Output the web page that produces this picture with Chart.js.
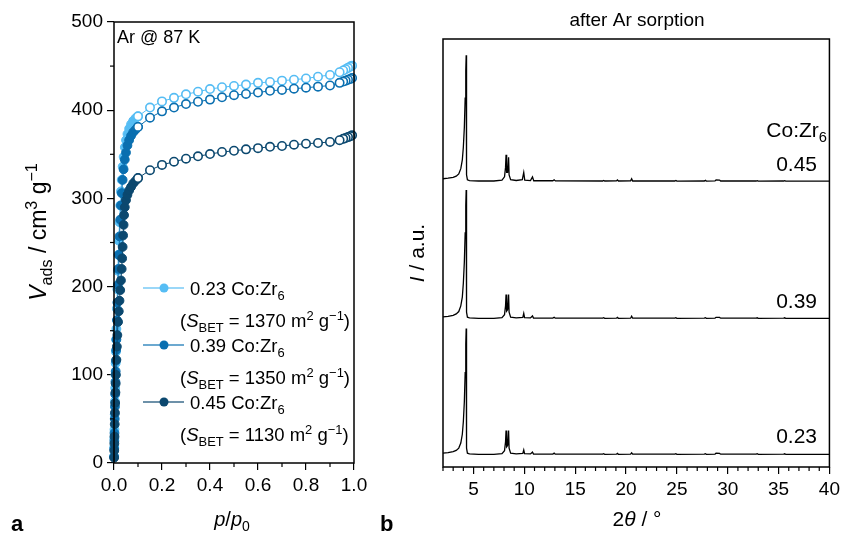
<!DOCTYPE html>
<html>
<head>
<meta charset="utf-8">
<script src="https://cdn.jsdelivr.net/npm/chart.js@4.4.1/dist/chart.umd.min.js"></script>
<style>
  body { margin: 0; background: #fff; }
  #wrap { position: relative; width: 844px; height: 540px; }
  canvas { position: absolute; top: 0; }
</style>
</head>
<body>
<div id="wrap">
  <canvas id="iso" width="380" height="540" style="left:0"></canvas>
  <canvas id="xrd" width="464" height="540" style="left:380px"></canvas>
</div>
<script>
// ---- isotherm data (Ar @ 87 K) ----
const samples = ['0.23', '0.39', '0.45']
const sBet = [1370, 1350, 1130]

const adsP023 = [0.0005, 0.001, 0.0015, 0.002, 0.003, 0.004, 0.005, 0.006, 0.007, 0.008, 0.009, 0.010, 0.012, 0.014, 0.016, 0.018, 0.020, 0.023, 0.026, 0.029, 0.032, 0.036, 0.040, 0.045, 0.050, 0.056, 0.063, 0.071, 0.080, 0.090, 0.100]
const adsV023 = [8, 18, 28, 38, 55, 70, 85, 100, 113, 126, 140, 152, 175, 197, 218, 236, 252, 273, 292, 308, 321, 336, 347, 358, 366, 373, 379, 384, 388, 391, 393]
const adsP039 = [0.0005, 0.001, 0.0015, 0.002, 0.003, 0.004, 0.005, 0.006, 0.007, 0.008, 0.009, 0.010, 0.012, 0.014, 0.016, 0.018, 0.020, 0.023, 0.026, 0.029, 0.032, 0.036, 0.040, 0.045, 0.050, 0.056, 0.063, 0.071, 0.080, 0.090, 0.100]
const adsV039 = [7, 16, 25, 34, 50, 64, 78, 92, 104, 116, 128, 140, 162, 182, 202, 220, 236, 257, 276, 292, 306, 321, 333, 344, 352, 360, 366, 371, 375, 378, 381]
const adsP045 = [0.0005, 0.001, 0.0015, 0.002, 0.003, 0.004, 0.005, 0.006, 0.007, 0.008, 0.010, 0.012, 0.014, 0.017, 0.020, 0.023, 0.026, 0.029, 0.032, 0.034, 0.036, 0.038, 0.040, 0.042, 0.045, 0.050, 0.056, 0.063, 0.071, 0.080, 0.090, 0.100]
const adsV045 = [6, 14, 22, 30, 44, 57, 68, 80, 90, 100, 117, 132, 145, 160, 172, 184, 196, 207, 220, 232, 245, 258, 270, 281, 290, 298, 304, 309, 313, 317, 320, 323]

const desP = [0.992, 0.985, 0.975, 0.965, 0.955, 0.94, 0.90, 0.85, 0.80, 0.75, 0.70, 0.65, 0.60, 0.55, 0.50, 0.45, 0.40, 0.35, 0.30, 0.25, 0.20, 0.15, 0.10]
const desV023 = [450.5, 449.5, 448, 446.5, 445, 443, 440, 438, 436, 434.6, 433.5, 432, 431, 429, 427.5, 426, 424, 421, 418, 414, 410, 403, 393]
const desV039 = [436.5, 435.5, 434.5, 433.5, 432.5, 431, 428, 426.7, 425.5, 424.4, 423, 422, 420, 418.4, 417, 414.6, 412, 409.6, 407, 403, 398.7, 391.5, 381]
const desV045 = [371.5, 370.5, 369.5, 368.5, 367.5, 366, 364, 362.8, 362, 360.9, 359.4, 358.5, 357, 355.6, 354, 352.6, 350.3, 347.7, 345, 341.6, 338, 332, 323]

const isoXTicks = [0, 0.2, 0.4, 0.6, 0.8, 1.0]
const isoXMinor = [0.1, 0.3, 0.5, 0.7, 0.9]
const isoYTicks = [0, 100, 200, 300, 400, 500]
const isoYMinor = [50, 150, 250, 350, 450]

// ---- XRD data after Ar sorption: [2theta, normalised intensity] ----
const xrd023 = [[2.0,0.01],[2.5,0.014],[3.0,0.022],[3.3,0.032],[3.55,0.05],[3.75,0.09],[3.9,0.16],[4.0,0.26],[4.1,0.42],[4.18,0.65],[4.24,0.88],[4.28,1.0],[4.3,0.5],[4.33,0.05],[4.4,0.01],[4.6,0.004],[5.5,0.001],[7.0,0.001],[7.8,0.006],[8.05,0.03],[8.15,0.1],[8.2,0.19],[8.26,0.06],[8.35,0.07],[8.45,0.19],[8.5,0.05],[8.65,0.01],[9.2,0.005],[9.85,0.008],[9.94,0.035],[10.02,0.006],[10.6,0.004],[10.8,0.018],[10.9,0.003],[12.8,0.003],[12.93,0.01],[13.05,0.002],[17.7,0.002],[17.8,0.006],[17.9,0.001],[19.05,0.002],[19.15,0.008],[19.25,0.001],[20.45,0.002],[20.55,0.013],[20.65,0.002],[24.8,0.002],[24.9,0.006],[25.0,0.001],[27.7,0.002],[27.8,0.006],[27.9,0.001],[28.75,0.003],[28.85,0.009],[29.2,0.008],[29.3,0.002],[32.8,0.002],[32.9,0.006],[33.0,0.001],[35.5,0.002],[35.6,0.005],[35.7,0.001],[40.0,0.001]]
const xrd039 = [[2.0,0.012],[2.5,0.016],[3.0,0.025],[3.3,0.036],[3.55,0.055],[3.75,0.1],[3.9,0.17],[4.0,0.28],[4.1,0.45],[4.18,0.68],[4.24,0.9],[4.28,1.02],[4.3,0.5],[4.33,0.05],[4.4,0.01],[4.6,0.004],[5.5,0.001],[7.0,0.001],[7.8,0.006],[8.05,0.03],[8.15,0.1],[8.2,0.19],[8.26,0.06],[8.35,0.07],[8.45,0.19],[8.5,0.05],[8.65,0.01],[9.2,0.005],[9.85,0.008],[9.94,0.04],[10.02,0.006],[10.6,0.004],[10.8,0.02],[10.9,0.003],[12.8,0.003],[12.93,0.01],[13.05,0.002],[17.7,0.002],[17.8,0.006],[17.9,0.001],[19.05,0.002],[19.15,0.008],[19.25,0.001],[20.45,0.002],[20.55,0.018],[20.65,0.002],[24.8,0.002],[24.9,0.006],[25.0,0.001],[27.7,0.002],[27.8,0.006],[27.9,0.001],[28.75,0.003],[28.85,0.009],[29.2,0.008],[29.3,0.002],[32.8,0.002],[32.9,0.005],[33.0,0.001],[35.5,0.002],[35.6,0.005],[35.7,0.001],[40.0,0.001]]
const xrd045 = [[2.0,0.02],[2.5,0.024],[3.0,0.03],[3.3,0.04],[3.55,0.058],[3.75,0.1],[3.9,0.17],[4.0,0.27],[4.1,0.43],[4.18,0.66],[4.24,0.88],[4.28,1.0],[4.3,0.5],[4.33,0.05],[4.4,0.012],[4.6,0.005],[5.5,0.002],[7.0,0.002],[7.8,0.008],[8.05,0.035],[8.15,0.11],[8.2,0.21],[8.26,0.07],[8.35,0.07],[8.45,0.19],[8.5,0.05],[8.65,0.012],[9.2,0.006],[9.8,0.012],[9.94,0.07],[10.04,0.008],[10.6,0.005],[10.8,0.035],[10.92,0.004],[12.8,0.004],[12.93,0.012],[13.05,0.003],[17.7,0.002],[17.8,0.006],[17.9,0.002],[19.05,0.003],[19.15,0.01],[19.25,0.002],[20.45,0.003],[20.55,0.02],[20.65,0.002],[24.8,0.002],[24.9,0.006],[25.0,0.001],[27.7,0.002],[27.8,0.007],[27.9,0.001],[28.75,0.003],[28.85,0.01],[29.2,0.009],[29.3,0.002],[32.8,0.002],[32.9,0.005],[33.0,0.001],[35.5,0.002],[35.6,0.005],[35.7,0.001],[40.0,0.001]]
const traceOffsets = [0.1, 1.18, 2.27]
const xrdTicks = [5, 10, 15, 20, 25, 30, 35, 40]
const xrdMinor = [2, 3, 4, 6, 7, 8, 9, 11, 12, 13, 14, 16, 17, 18, 19, 21, 22, 23, 24, 26, 27, 28, 29, 31, 32, 33, 34, 36, 37, 38, 39]

// ---- styling ----
const FONT = '"Liberation Sans", Arial, Helvetica, sans-serif'
const isoColors = ['#56bdf4', '#0a6fb0', '#0b486f']
const legendLineColors = ['rgba(86,189,244,0.6)', 'rgba(10,111,176,0.6)', 'rgba(11,72,111,0.6)']

Chart.defaults.font.family = FONT
Chart.defaults.font.size = 19
Chart.defaults.color = '#000'

function fontFor(kind, size) {
  const small = kind === 'sub' || kind === 'sup'
  const s = small ? size * 0.7 : size
  const it = kind === 'i' ? 'italic ' : ''
  return it + s + 'px ' + FONT
}

function drawRich(ctx, parts, x, y, size, align) {
  let w = 0
  parts.forEach(([t, k]) => { ctx.font = fontFor(k, size); w += ctx.measureText(t).width })
  let cx = align === 'center' ? x - w / 2 : align === 'right' ? x - w : x
  ctx.textAlign = 'left'
  ctx.textBaseline = 'alphabetic'
  parts.forEach(([t, k]) => {
    ctx.font = fontFor(k, size)
    const dy = k === 'sub' ? size * 0.25 : k === 'sup' ? -size * 0.4 : 0
    ctx.fillText(t, cx, y + dy)
    cx += ctx.measureText(t).width
  })
}

// box around plot area + minor ticks on the outside
const frame = {
  id: 'frame',
  afterDraw(chart, args, opts) {
    const { ctx, chartArea: a } = chart
    ctx.save()
    ctx.strokeStyle = '#000'
    ctx.lineWidth = 1.5
    ctx.strokeRect(a.left, a.top, a.right - a.left, a.bottom - a.top)
    ctx.lineWidth = 1.2
    ;(opts.xMinor || []).forEach(v => {
      const px = chart.scales.x.getPixelForValue(v)
      ctx.beginPath(); ctx.moveTo(px, a.bottom); ctx.lineTo(px, a.bottom + 4); ctx.stroke()
    })
    ;(opts.yMinor || []).forEach(v => {
      const py = chart.scales.y.getPixelForValue(v)
      ctx.beginPath(); ctx.moveTo(a.left, py); ctx.lineTo(a.left - 4, py); ctx.stroke()
    })
    ctx.restore()
  }
}

const isoText = {
  id: 'isoText',
  afterDraw(chart) {
    const ctx = chart.ctx
    ctx.save()
    ctx.fillStyle = '#000'
    drawRich(ctx, [['Ar @ 87 K', '']], 117, 43, 18, 'left')
    // legend
    const rows = [288, 345, 402]
    samples.forEach((s, i) => {
      const y = rows[i]
      ctx.strokeStyle = legendLineColors[i]
      ctx.lineWidth = 2
      ctx.beginPath(); ctx.moveTo(143, y); ctx.lineTo(184, y); ctx.stroke()
      ctx.fillStyle = isoColors[i]
      ctx.beginPath(); ctx.arc(164, y, 4.5, 0, Math.PI * 2); ctx.fill()
      ctx.fillStyle = '#000'
      drawRich(ctx, [[s + ' Co:Zr', ''], ['6', 'sub']], 190, y + 7, 18.5, 'left')
      drawRich(ctx, [['(', ''], ['S', 'i'], ['BET', 'sub'], [' = ' + sBet[i] + ' m', ''], ['2', 'sup'], [' g', ''], ['\u22121', 'sup'], [')', '']], 180, y + 39, 18.5, 'left')
    })
    // axis titles
    drawRich(ctx, [['p', 'i'], ['/', ''], ['p', 'i'], ['0', 'sub']], 232, 526, 20, 'center')
    ctx.save()
    ctx.translate(46, 232)
    ctx.rotate(-Math.PI / 2)
    drawRich(ctx, [['V', 'i'], ['ads', 'sub'], [' / cm', ''], ['3', 'sup'], [' g', ''], ['\u22121', 'sup']], 0, 0, 23, 'center')
    ctx.restore()
    ctx.font = 'bold 22px ' + FONT
    ctx.fillText('a', 11, 531)
    ctx.restore()
  }
}

const xrdText = {
  id: 'xrdText',
  afterDraw(chart) {
    const ctx = chart.ctx
    ctx.save()
    ctx.fillStyle = '#000'
    drawRich(ctx, [['after Ar sorption', '']], 257, 26, 19, 'center')
    drawRich(ctx, [['Co:Zr', ''], ['6', 'sub']], 447, 137, 21, 'right')
    const labelY = [443, 308, 171]
    labelY.forEach((y, i) => drawRich(ctx, [[samples[i], '']], 437, y, 21, 'right'))
    drawRich(ctx, [['2', ''], ['\u03b8', 'i'], [' / \u00b0', '']], 257, 526, 21, 'center')
    ctx.save()
    ctx.translate(44, 253)
    ctx.rotate(-Math.PI / 2)
    drawRich(ctx, [['I', 'i'], [' / a.u.', '']], 0, 0, 21, 'center')
    ctx.restore()
    ctx.font = 'bold 22px ' + FONT
    ctx.fillText('b', 0, 531)
    ctx.restore()
  }
}

// ---- isotherm chart ----
const toXY = (ps, vs) => ps.map((p, i) => ({ x: p, y: vs[i] }))
const adsSets = [[adsP023, adsV023], [adsP039, adsV039], [adsP045, adsV045]]
const desSets = [desV023, desV039, desV045]
const isoDatasets = []
samples.forEach((s, i) => {
  isoDatasets.push({
    label: s + ' ads', data: toXY(adsSets[i][0], adsSets[i][1]), showLine: true,
    borderColor: isoColors[i], borderWidth: 1, backgroundColor: isoColors[i],
    pointBackgroundColor: isoColors[i], pointBorderColor: isoColors[i],
    pointRadius: 4.4, pointBorderWidth: 1, order: 5 - i, clip: false
  })
  isoDatasets.push({
    label: s + ' des', data: toXY(desP, desSets[i]), showLine: true,
    borderColor: isoColors[i], borderWidth: 1, backgroundColor: '#fff',
    pointBackgroundColor: '#fff', pointBorderColor: isoColors[i],
    pointRadius: 4.2, pointBorderWidth: 1.6, order: 2 - i, clip: false
  })
})

new Chart(document.getElementById('iso'), {
  type: 'scatter',
  data: { datasets: isoDatasets },
  options: {
    responsive: false,
    animation: false,
    layout: { padding: { top: 22, right: 26, left: 0, bottom: 0 } },
    plugins: {
      legend: { display: false }, tooltip: { enabled: false },
      frame: { xMinor: isoXMinor, yMinor: isoYMinor }
    },
    scales: {
      x: {
        type: 'linear', min: 0, max: 1,
        afterBuildTicks: s => { s.ticks = isoXTicks.map(v => ({ value: v })) },
        afterFit: s => { s.height = 77 },
        ticks: { callback: v => v.toFixed(1), padding: 4, maxRotation: 0 },
        grid: { drawOnChartArea: false, tickLength: 7, color: '#000', lineWidth: 1.2 },
        border: { display: false }
      },
      y: {
        type: 'linear', min: 0, max: 500,
        afterBuildTicks: s => { s.ticks = isoYTicks.map(v => ({ value: v })) },
        afterFit: s => { s.width = 114 },
        ticks: { padding: 4 },
        grid: { drawOnChartArea: false, tickLength: 7, color: '#000', lineWidth: 1.2 },
        border: { display: false }
      }
    }
  },
  plugins: [frame, isoText]
})

// ---- XRD chart ----
const traces = [xrd023, xrd039, xrd045]
new Chart(document.getElementById('xrd'), {
  type: 'line',
  data: {
    datasets: traces.map((t, i) => ({
      label: samples[i],
      data: t.map(([tt, inten]) => ({ x: tt, y: inten + traceOffsets[i] })),
      borderColor: '#000', borderWidth: 1.3, pointRadius: 0, tension: 0
    }))
  },
  options: {
    responsive: false,
    animation: false,
    layout: { padding: { top: 39, right: 12, left: 63, bottom: 0 } },
    plugins: {
      legend: { display: false }, tooltip: { enabled: false },
      frame: { xMinor: xrdMinor }
    },
    scales: {
      x: {
        type: 'linear', min: 2, max: 40,
        afterBuildTicks: s => { s.ticks = xrdTicks.map(v => ({ value: v })) },
        afterFit: s => { s.height = 73 },
        ticks: { padding: 4, maxRotation: 0 },
        grid: { drawOnChartArea: false, tickLength: 7, color: '#000', lineWidth: 1.2 },
        border: { display: false }
      },
      y: { type: 'linear', min: 0, max: 3.4, display: false }
    }
  },
  plugins: [frame, xrdText]
})
</script>
</body>
</html>
